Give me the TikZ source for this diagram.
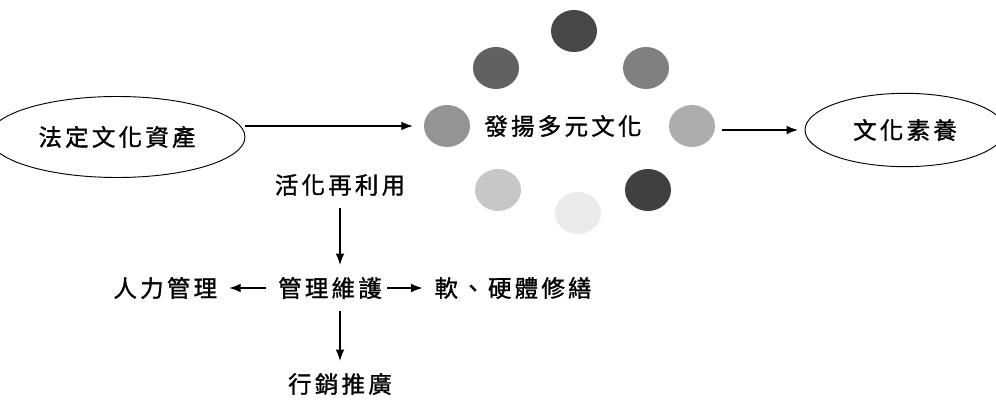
\documentclass[tikz,border=0pt]{standalone}
\usepackage{fontspec}
\newfontfamily\cjk[LetterSpace=14,FakeBold=1.2]{Noto Sans CJK TC}
\newcommand{\zh}[1]{#1\hspace{-0.14em}}
\usetikzlibrary{positioning,shapes.geometric,arrows.meta}

\begin{document}
\begin{tikzpicture}[
  x=0.03cm, y=-0.03cm,
  node distance=1.1cm,
  txt/.style={font=\cjk\fontsize{20}{22}\selectfont,inner xsep=0.36cm,inner ysep=0.36cm},
  ov/.style={txt,draw,ellipse,line width=0.8pt},
  dot/.style={ellipse,minimum width=1.38cm,minimum height=1.26cm,inner sep=0pt},
  arr/.style={-{Latex[length=3.4mm,width=2.6mm]},line width=0.9pt}
    ]
    \useasboundingbox (0,0) rectangle (996,405);
    % cultural assets and literacy
    \node[ov,minimum width=6.54cm,minimum height=2.43cm] (asset) at (117,137) {\zh{法定文化資產}};
    \node[ov,minimum width=6.0cm,minimum height=2.2cm] (lit) at (905,130) {\zh{文化素養}};
    % ring of dots
    \node[dot,fill=black!72] (c1) at (574,31) {};
    \node[dot,fill=black!62] (c2) at (496,68) {};
    \node[dot,fill=black!50] (c3) at (646,68) {};
    \node[dot,fill=black!42] (c4) at (447,126) {};
    \node[dot,fill=black!32] (c5) at (692,126) {};
    \node[dot,fill=black!22] (c6) at (498,190) {};
    \node[dot,fill=black!8] (c7) at (578,213) {};
    \node[dot,fill=black!75] (c8) at (648,190) {};
    \node[txt] (multi) at (563,126) {\zh{發揚多元文化}};
    % reuse branch
    \node[txt] (reuse) at (340,185) {\zh{活化再利用}};
    \node[txt] (maint) at (330,288) {\zh{管理維護}};
    \node[txt,left=of maint] (staff) {\zh{人力管理}};
    \node[txt,right=0.85cm of maint] (repair) {\zh{軟、硬體修繕}};
    \node[txt] (promo) at (340,384) {\zh{行銷推廣}};
    \path (asset.east |- c4) edge[arr,shorten >=0.33cm] (c4.west)
    (c5.east |- lit.west) edge[arr,shorten <=0.2cm,shorten >=0.2cm] (lit.west)
    (reuse.south) edge[arr] (reuse.south |- maint.north)
    (maint.west) edge[arr] (staff.east)
    (maint.east) edge[arr,shorten <=-0.2cm] (repair.west)
    (reuse.south |- maint.south) edge[arr] (promo.north);
    \end{tikzpicture}
\end{document}
